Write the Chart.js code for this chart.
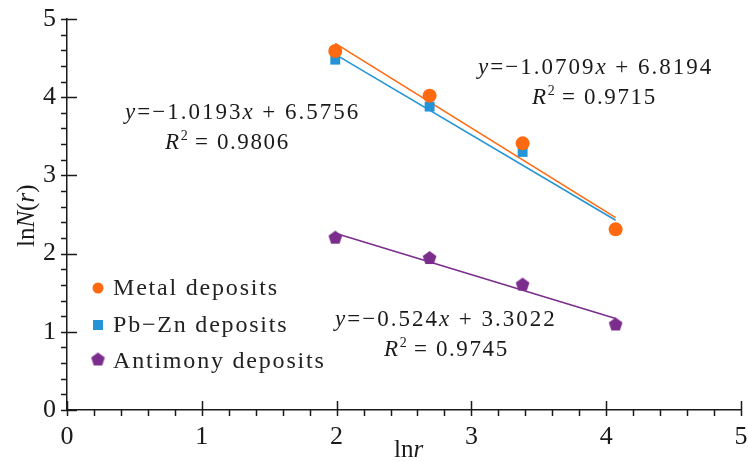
<!DOCTYPE html>
<html>
<head>
<meta charset="utf-8">
<script src="https://cdn.jsdelivr.net/npm/chart.js@4.4.0/dist/chart.umd.min.js"></script>
<style>
  html, body { margin: 0; padding: 0; background: #fff; }
  #wrap { width: 748px; height: 461px; }
</style>
</head>
<body>
<div id="wrap"><canvas id="chart" width="748" height="461"></canvas></div>
<script>
// values
const xValues = [1.99, 2.69, 3.38, 4.07];
const metalValues = [4.59, 4.02, 3.41, 2.31];
const pbznValues = [4.48, 3.88, 3.30, 2.31];
const antimonyValues = [2.21, 1.95, 1.61, 1.10];

const seriesNames = ['Metal deposits', 'Pb\u2212Zn deposits', 'Antimony deposits'];
const seriesColors = ['#ff6a10', '#2395d6', '#7b2d8e'];

// fitted lines as printed on the chart
const fitSlopes = [-1.0709, -1.0193, -0.524];
const fitIntercepts = [6.8194, 6.5756, 3.3022];
const fitR2 = ['0.9715', '0.9806', '0.9745'];

const xTicks = [0, 1, 2, 3, 4, 5];
const yTicks = [0, 1, 2, 3, 4, 5];

const SERIF = '"Liberation Serif", "Times New Roman", serif';
const INK = '#1a1a1a';

function pentagonCanvas(r, color) {
    const c = document.createElement('canvas');
    const s = Math.ceil(r * 2 + 2);
    c.width = s; c.height = s;
    const g = c.getContext('2d');
    g.fillStyle = color;
    g.beginPath();
    for (let i = 0; i < 5; i++) {
        const a = -Math.PI / 2 + i * 2 * Math.PI / 5;
        const px = s / 2 + r * Math.cos(a);
        const py = s / 2 + r * Math.sin(a) + 0.8;
        if (i === 0) g.moveTo(px, py); else g.lineTo(px, py);
    }
    g.closePath();
    g.fill();
    return c;
}
const pentagon = pentagonCanvas(7.2, seriesColors[2]);

function points(ys) {
    return xValues.map((x, i) => ({ x: x, y: ys[i] }));
}
function fitLine(k) {
    const x0 = xValues[0], x1 = xValues[xValues.length - 1];
    return [
        { x: x0, y: fitSlopes[k] * x0 + fitIntercepts[k] },
        { x: x1, y: fitSlopes[k] * x1 + fitIntercepts[k] }
    ];
}

function fmtEq(k) {
    const s = Math.abs(fitSlopes[k]).toString();
    return [
        { t: 'y', i: true }, { t: '=\u2212' + s }, { t: 'x', i: true },
        { t: ' + ' + fitIntercepts[k].toFixed(4) }
    ];
}
function fmtR2(k) {
    return [{ t: 'R', i: true }, { t: '2', sup: true }, { t: ' = ' + fitR2[k] }];
}

// annotation placement (pixels, left edge and baseline)
const eqLabels = [
    { k: 0, x: 478, y: 74, x2: 532, y2: 104 },
    { k: 1, x: 125, y: 119, x2: 165, y2: 149 },
    { k: 2, x: 335, y: 326, x2: 384, y2: 356 }
];

function drawRich(ctx, parts, x, y, size, spacing) {
    let cx = x;
    parts.forEach(p => {
        const fs = p.sup ? Math.round(size * 0.62) : size;
        ctx.font = (p.i ? 'italic ' : '') + fs + 'px ' + SERIF;
        ctx.letterSpacing = (p.sup ? 0 : spacing) + 'px';
        ctx.fillText(p.t, cx, p.sup ? y - size * 0.38 : y);
        cx += ctx.measureText(p.t).width;
    });
    ctx.letterSpacing = '0px';
}

const decorPlugin = {
    id: 'decor',
    afterDraw(chart) {
        const ctx = chart.ctx;
        const xs = chart.scales.x, ys = chart.scales.y;
        const ax = xs.left, ay = ys.bottom;
        ctx.save();
        ctx.strokeStyle = INK;
        ctx.lineWidth = 1.5;
        ctx.beginPath();
        // x ticks: minor every 0.2, major every 1
        for (let v = 0; v <= 5.001; v += 0.2) {
            const px = Math.round(xs.getPixelForValue(v)) + 0.5;
            const major = Math.abs(v - Math.round(v)) < 1e-6;
            ctx.moveTo(px, ay + 6);
            ctx.lineTo(px, major ? ay - 9 : ay);
        }
        for (let v = 0; v <= 5.001; v += 0.2) {
            const py = Math.round(ys.getPixelForValue(v)) + 0.5;
            const major = Math.abs(v - Math.round(v)) < 1e-6;
            ctx.moveTo(ax - 6, py);
            ctx.lineTo(major ? ax + 10 : ax, py);
        }
        ctx.stroke();

        ctx.fillStyle = INK;
        ctx.textBaseline = 'alphabetic';
        ctx.textAlign = 'left';

        // regression labels
        eqLabels.forEach(l => {
            drawRich(ctx, fmtEq(l.k), l.x, l.y, 23, 2.0);
            drawRich(ctx, fmtR2(l.k), l.x2, l.y2, 23, 1.6);
        });

        // legend
        const rows = [288, 325, 361];
        const mx = 98;
        ctx.textBaseline = 'middle';
        rows.forEach((ry, i) => {
            ctx.fillStyle = seriesColors[i];
            if (i === 0) {
                ctx.beginPath(); ctx.arc(mx, ry, 5.5, 0, Math.PI * 2); ctx.fill();
            } else if (i === 1) {
                ctx.fillRect(mx - 5, ry - 5, 10, 10);
            } else {
                ctx.drawImage(pentagon, mx - pentagon.width / 2, ry - pentagon.height / 2 - 2);
            }
            ctx.fillStyle = '#222';
            ctx.font = '24px ' + SERIF;
            ctx.letterSpacing = '1.8px';
            ctx.fillText(seriesNames[i], 113, ry + 1);
            ctx.letterSpacing = '0px';
        });

        // axis titles
        ctx.fillStyle = INK;
        ctx.textBaseline = 'alphabetic';
        drawRich(ctx, [{ t: 'ln' }, { t: 'r', i: true }], 394, 457, 25, 0);
        ctx.translate(34, 247);
        ctx.rotate(-Math.PI / 2);
        drawRich(ctx, [{ t: 'ln' }, { t: 'N', i: true }, { t: '(' }, { t: 'r', i: true }, { t: ')' }], 0, 0, 25, 0);
        ctx.restore();
    }
};

const ctx = document.getElementById('chart').getContext('2d');
const datasets = [
    { label: seriesNames[0], data: points(metalValues), pointStyle: 'circle', pointRadius: 7,
      backgroundColor: seriesColors[0], borderColor: seriesColors[0], borderWidth: 0, showLine: false, order: 0 },
    { label: seriesNames[1], data: points(pbznValues), pointStyle: 'rect', pointRadius: 7,
      backgroundColor: seriesColors[1], borderColor: seriesColors[1], borderWidth: 0, showLine: false, order: 1 },
    { label: seriesNames[2], data: points(antimonyValues), pointStyle: pentagon,
      backgroundColor: seriesColors[2], borderColor: seriesColors[2], borderWidth: 0, showLine: false, order: 1 }
];
fitSlopes.forEach((s, k) => {
    datasets.push({
        label: 'fit ' + k, data: fitLine(k), showLine: true, pointRadius: 0,
        borderColor: seriesColors[k], borderWidth: 1.6, order: 3 - (k === 0 ? 1 : 0)
    });
});

new Chart(ctx, {
    type: 'scatter',
    data: { datasets: datasets },
    options: {
        responsive: false,
        animation: false,
        devicePixelRatio: 1,
        layout: { padding: { top: 19, right: 4, left: 0, bottom: 0 } },
        plugins: { legend: { display: false }, tooltip: { enabled: false } },
        scales: {
            x: {
                type: 'linear', min: 0, max: 5,
                afterBuildTicks: s => { s.ticks = xTicks.map(v => ({ value: v })); },
                afterFit: s => { s.height = 51; s.paddingLeft = 0; s.paddingRight = 0; },
                grid: { display: false, drawTicks: false },
                border: { display: true, color: INK, width: 1.5 },
                ticks: { color: INK, padding: 12, maxRotation: 0, font: { family: SERIF, size: 26 } }
            },
            y: {
                type: 'linear', min: 0, max: 5,
                afterBuildTicks: s => { s.ticks = yTicks.map(v => ({ value: v })); },
                afterFit: s => { s.width = 67; s.paddingTop = 0; s.paddingBottom = 0; },
                grid: { display: false, drawTicks: false },
                border: { display: true, color: INK, width: 1.5 },
                ticks: { color: INK, padding: 11, font: { family: SERIF, size: 26 } }
            }
        }
    },
    plugins: [decorPlugin]
});
</script>
</body>
</html>
